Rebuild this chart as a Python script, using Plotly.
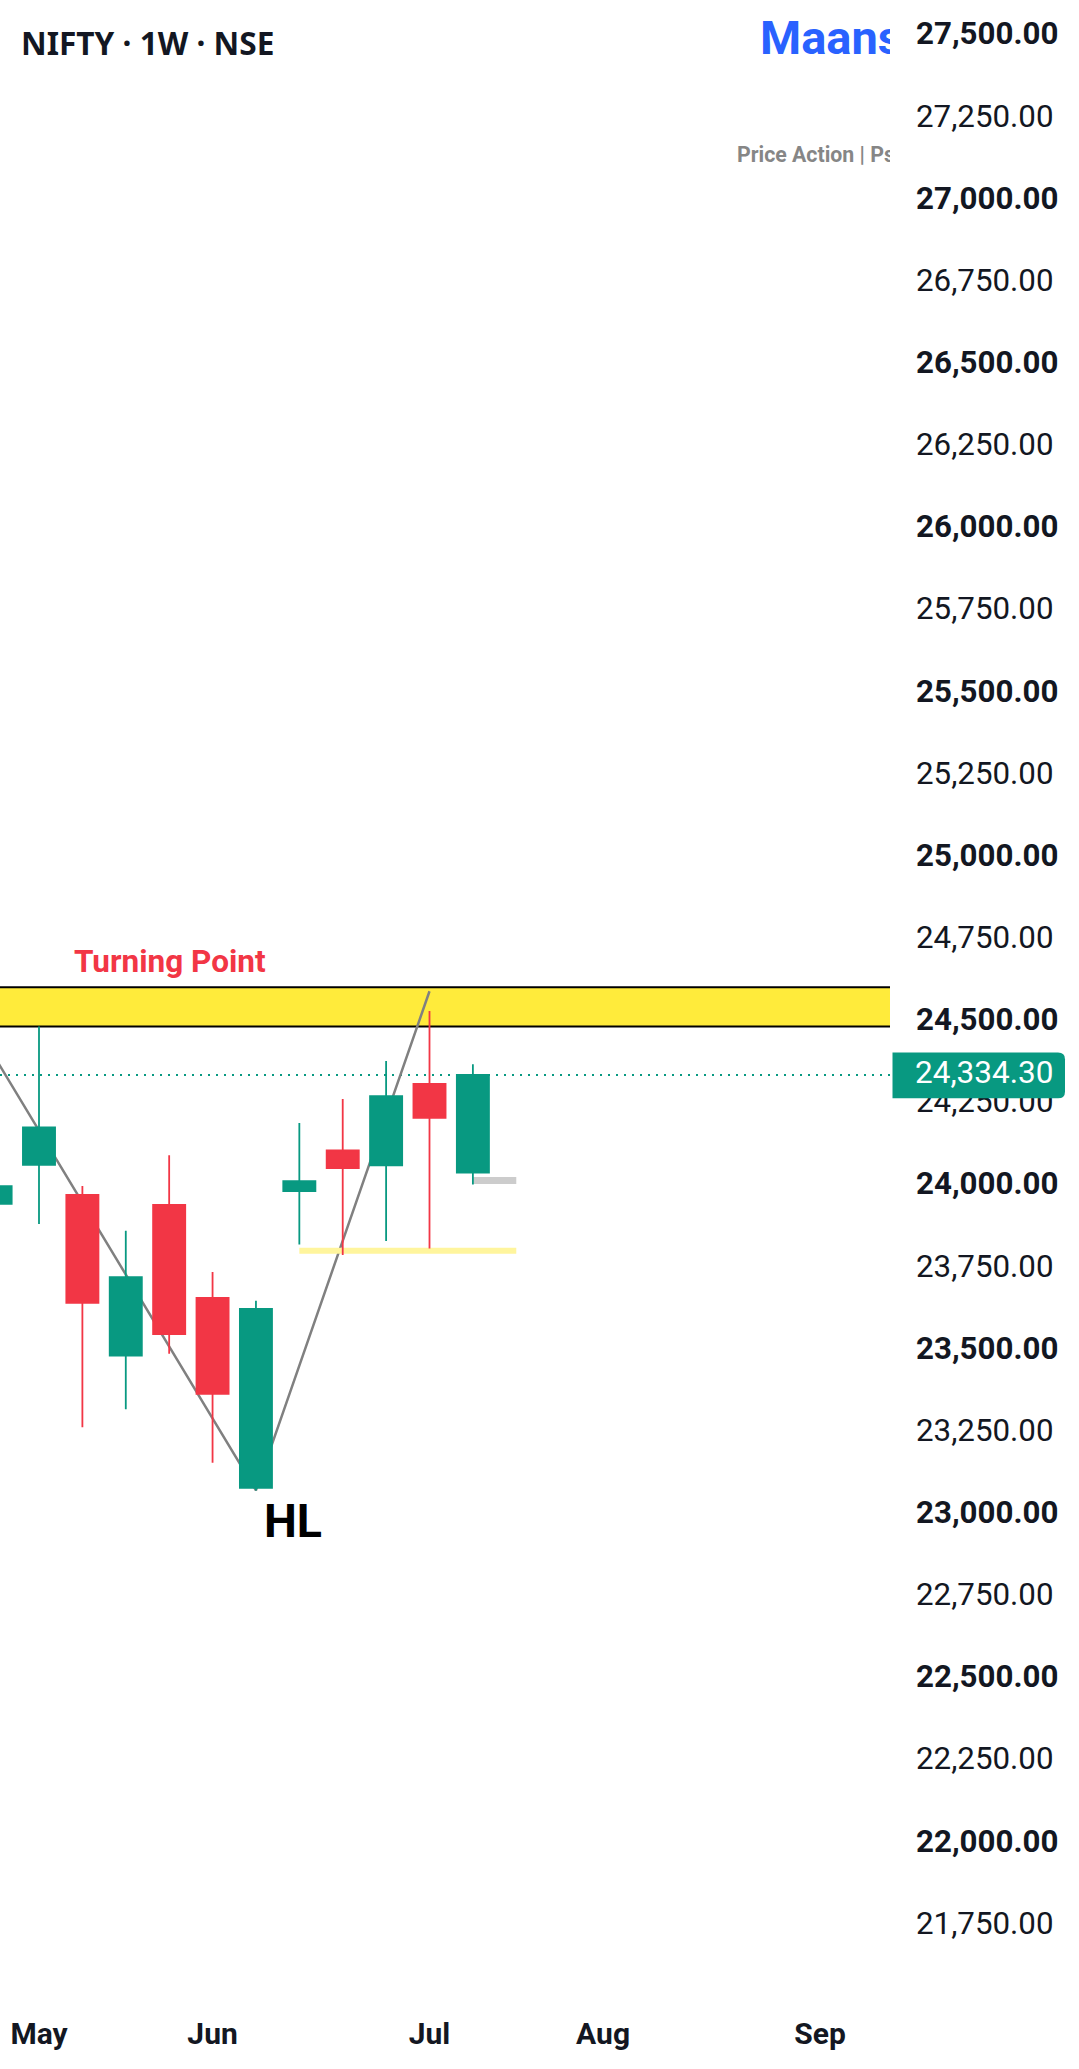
import plotly.graph_objects as go

weeks = ['2026-04-27', '2026-05-04', '2026-05-11', '2026-05-18', '2026-05-25', '2026-06-01',
         '2026-06-08', '2026-06-15', '2026-06-22', '2026-06-29', '2026-07-06', '2026-07-13']
opens = [23942, 24061, 23969, 23480, 23939, 23656, 23078, 23981, 24105, 24059, 24307, 24037]
highs = [24010, 24482, 23996, 23860, 24090, 23735, 23647, 24188, 24261, 24377, 24529, 24367]
lows = [23900, 23881, 23262, 23317, 23486, 23154, 23070, 23818, 23786, 23829, 23806, 24001]
closes = [23996, 24175, 23641, 23719, 23546, 23364, 23622, 24011, 24051, 24270, 24204, 24334.3]

zigzag_x = ['2026-04-20', '2026-06-08', '2026-07-06']
zigzag_y = [24603, 23070, 24589]

x_ticks = ['2026-05-04', '2026-06-01', '2026-07-06', '2026-08-03', '2026-09-07']
x_labels = ['May', 'Jun', 'Jul', 'Aug', 'Sep']
y_ticks = list(range(21750, 27501, 250))
y_labels = [f'<b>{v:,.2f}</b>' if v % 500 == 0 else f'{v:,.2f}' for v in y_ticks]
label_nudge = 4  # labels sit a pixel or so above the true level

band_top = 24601
band_bottom = 24482
last_price = 24334.3
pale_level = 23799
pale_x = ['2026-06-15', '2026-07-20']
grey_level = 24013
grey_x = ['2026-07-13', '2026-07-20']

GREEN = '#089981'
RED = '#f23645'
W, H = 890, 1990


def px(x):
    return x / W


def py(y):
    return 1 - y / H


trend = go.Scatter(x=zigzag_x, y=zigzag_y, mode='lines', line=dict(color='#808080', width=2.5), zorder=0)
pale = go.Scatter(x=pale_x, y=[pale_level, pale_level], mode='lines', line=dict(color='#fff59d', width=6), zorder=0)
grey = go.Scatter(x=grey_x, y=[grey_level, grey_level], mode='lines', line=dict(color='#cccccc', width=7), zorder=0)
candles = go.Candlestick(x=weeks, open=opens, high=highs, low=lows, close=closes, zorder=1,
                         increasing=dict(line=dict(color=GREEN, width=1.8), fillcolor=GREEN),
                         decreasing=dict(line=dict(color=RED, width=1.8), fillcolor=RED))

fig = go.Figure(data=[trend, pale, grey, candles])

fig.update_layout(
    width=1079, height=2069, margin=dict(l=0, r=189, t=0, b=79),
    paper_bgcolor='white', plot_bgcolor='white', showlegend=False, boxgap=0.26, boxgroupgap=0,
    font=dict(family='Roboto', color='#131722'),
)
fig.update_xaxes(type='date', range=['2026-04-27 17:00', '2026-09-18 07:00'], rangeslider_visible=False,
                 showgrid=False, zeroline=False, showline=False, ticks='',
                 tickmode='array', tickvals=x_ticks, ticktext=[f'<b>{t}</b>' for t in x_labels],
                 tickfont=dict(size=30, family='Roboto', color='#131722'), ticklabelstandoff=23)
fig.update_yaxes(side='right', range=[21549.6, 27605.6], showgrid=False, zeroline=False, showline=False,
                 ticks='', tickmode='array', tickvals=[v + label_nudge for v in y_ticks], ticktext=y_labels,
                 automargin=False, tickfont=dict(size=31.3, family='Roboto', color='#131722'),
                 ticklabelstandoff=25)

# yellow zone and last price line
fig.add_shape(type='rect', xref='paper', x0=0, x1=1, y0=band_bottom, y1=band_top,
              fillcolor='#ffeb3b', line_width=0, layer='below')
for level in [band_top, band_bottom]:
    fig.add_shape(type='line', xref='paper', x0=0, x1=1, y0=level, y1=level,
                  line=dict(color='black', width=2), layer='below')
fig.add_shape(type='line', xref='paper', x0=0, x1=1, y0=last_price, y1=last_price,
              line=dict(color=GREEN, width=2, dash='2px,6px'), layer='below')

# price tag, right corners rounded
x0, x1, xr = 892.5 / W, 1065 / W, 1058 / W
y1, y0 = last_price + 68, last_price - 71
d = 20
fig.add_shape(type='path', xref='paper', yref='y', fillcolor=GREEN, line_width=0, layer='above',
              path=f'M {x0} {y0} L {x0} {y1} L {xr} {y1} Q {x1} {y1} {x1} {y1 - d} '
                   f'L {x1} {y0 + d} Q {x1} {y0} {xr} {y0} Z')


def note(text, x, y, size, color, bold=True, width=None, anchor='left'):
    fig.add_annotation(text=f'<b>{text}</b>' if bold else text, xref='paper', yref='paper',
                       x=px(x), y=py(y), xanchor=anchor, yanchor='middle', showarrow=False,
                       font=dict(size=size, family='Roboto', color=color), width=width, align='left',
                       borderpad=0, borderwidth=0)


fig.add_annotation(text='<b>NIFTY · 1W · NSE</b>', xref='paper', yref='paper', x=px(20), y=py(42),
                   xanchor='left', yanchor='middle', showarrow=False, borderpad=0,
                   font=dict(size=31.6, family='Noto Sans', color='#131722'))
note('Maans', 760, 37, 47, '#2962ff', width=130)
note('Price Action | Ps', 737, 154, 21.3, '#868686', width=153)
note('Turning Point', 74, 961, 31.5, RED)
note('HL', 264, 1521, 46.5, 'black')
note('24,334.30', 915.5, 1072, 31.5, 'white', bold=False)

fig.write_html("out.html", post_script="document.body.style.margin='0';", config=dict(displayModeBar=False))
